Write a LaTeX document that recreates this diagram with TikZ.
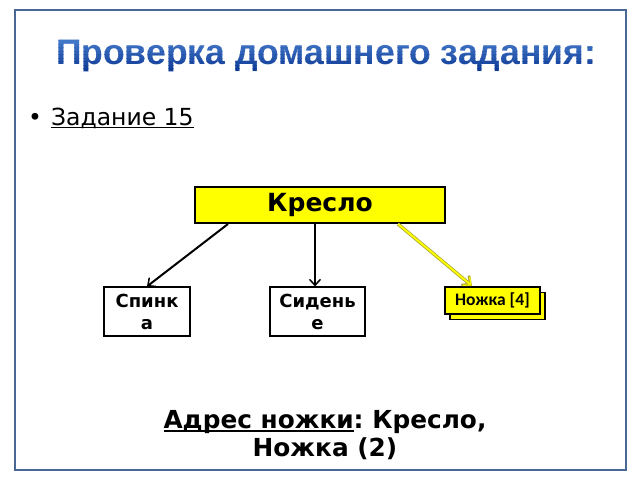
\documentclass[tikz,border=0pt]{standalone}
\usepackage{fontspec}
\setmainfont{DejaVu Sans}
\newfontfamily\titlefont{Liberation Sans}
\newfontfamily\calfont{Carlito}
\usetikzlibrary{arrows.meta}
\definecolor{framec}{RGB}{74,104,150}
\definecolor{titletop}{RGB}{85,140,218}
\definecolor{titlebot}{RGB}{15,60,150}
\definecolor{yel}{RGB}{255,255,0}
\definecolor{yeldark}{RGB}{170,170,40}
\newsavebox{\ulbox}
\newcommand{\myul}[1]{\sbox{\ulbox}{#1}\rlap{\rule[-3.2pt]{\wd\ulbox}{1.4pt}}\usebox{\ulbox}}
\tikzset{
  boxw/.style={draw=black, line width=1.2pt, fill=white, minimum width=86pt, minimum height=49pt, inner sep=0pt, align=center, font=\bfseries\fontsize{18}{22}\selectfont},
  arr/.style={line width=2pt, -{Straight Barb[length=6pt,width=11pt,line width=1.5pt]}},
  titlestyle/.style={font=\titlefont\bfseries\fontsize{35.5}{38}\selectfont, anchor=base, inner sep=0pt},
}
\frenchspacing
\begin{document}
\begin{tikzpicture}[x=1pt,y=-1pt]
\useasboundingbox (0,0) rectangle (640,480);
\fill[white] (0,0) rectangle (640,480);
\draw[framec, line width=2.5pt] (15,10) rectangle (626,470);
% title with vertical gradient (bands)
\foreach \i in {0,...,11} {
  \pgfmathsetmacro{\pc}{100-\i*100/11}
  \begin{scope}
    \clip (0,{30+\i*3.5}) rectangle (640,{30+(\i+1)*3.5+0.3});
    \node[titlestyle, text=titletop!\pc!titlebot] (title\i) at (326,64) {Проверка домашнего задания:};
  \end{scope}
}
\begin{scope}
  \clip (0,72) rectangle (640,80);
  \node[titlestyle, text=titlebot] (titleD) at (326,64) {Проверка домашнего задания:};
\end{scope}
% bullet
\node[font=\fontsize{23.5}{28}\selectfont, anchor=base west, inner sep=0pt] (bul) at (28,125) {\textbullet\hspace{9pt}\myul{Задание 15}};
% boxes
\node[draw=black, line width=1.2pt, fill=yel, minimum width=250pt, minimum height=36pt, inner sep=0pt, font=\bfseries\fontsize{25}{28}\selectfont] (kr) at (320,205) {Кресло};
\node[boxw] (sp) at (147,311.5) {Спинк\\а};
\node[boxw, minimum width=95pt] (sid) at (317.5,311.5) {Сидень\\е};
\node[draw=black, line width=1.2pt, fill=yel, minimum width=95pt, minimum height=27pt, inner sep=0pt] (nb) at (497.5,306) {};
\node[draw=black, line width=1.2pt, fill=yel, minimum width=95pt, minimum height=27pt, inner sep=0pt, font=\calfont\bfseries\fontsize{17.5}{20}\selectfont] (nf) at (492.5,300.5) {Ножка [4]};
% arrows
\coordinate (a1) at (228,224);
\coordinate (a2) at (315,224);
\coordinate (a3) at (398,224);
\draw[arr] (a1) -- (sp.north);
\draw[arr] (a2) -- (sid.north -| a2);
\draw[line width=3.4pt, yeldark, -{Straight Barb[length=7pt,width=12pt,line width=2.6pt]}] (a3) -- (472,286);
\draw[line width=1.8pt, yel, -{Straight Barb[length=6pt,width=11pt,line width=1.2pt]}] (a3) -- (471.5,285.5);
% bottom text
\node[font=\bfseries\fontsize{24.8}{28}\selectfont, align=center] (addr) at (325,435) {\myul{Адрес ножки}: Кресло,\\Ножка (2)};
\end{tikzpicture}
\end{document}
